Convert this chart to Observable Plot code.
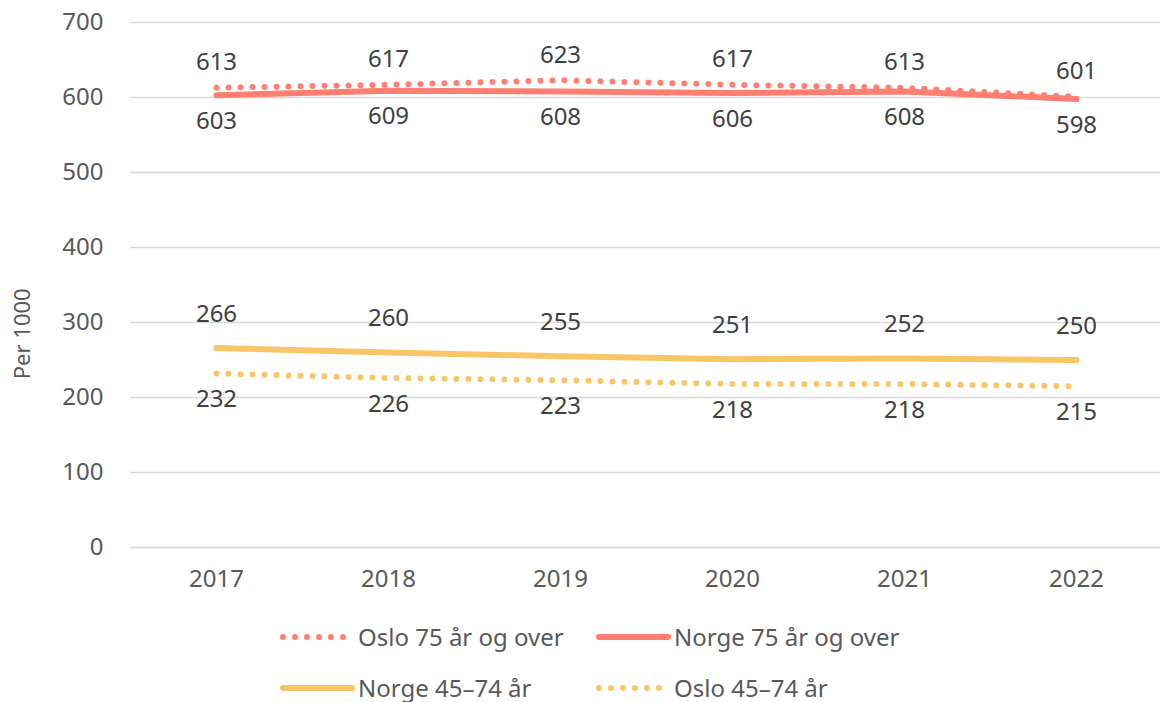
<!DOCTYPE html>
<html>
<head>
<meta charset="utf-8">
<script src="https://cdn.jsdelivr.net/npm/d3@7"></script>
<script src="https://cdn.jsdelivr.net/npm/@observablehq/plot@0.6"></script>
<style>
  html, body { margin: 0; padding: 0; background: #fff; }
  body { width: 1160px; height: 702px; overflow: hidden; font-family: "Noto Sans", Roboto, sans-serif; }
  #chart svg { display: block; }
  .legend { position: absolute; left: 0; top: 610px; width: 1160px; font-size: 24px; color: #595959; }
  .item { position: absolute; display: flex; align-items: center; height: 30px; line-height: 1; }
  .item span { line-height: 1; display: inline-block; }
  .item svg { margin-right: 2px; }
</style>
</head>
<body>
<div id="chart"></div>
<div class="legend" id="legend"></div>
<script>
const years = ["2017", "2018", "2019", "2020", "2021", "2022"];
const osloOld = [613, 617, 623, 617, 613, 601];
const norgeOld = [603, 609, 608, 606, 608, 598];
const norgeMid = [266, 260, 255, 251, 252, 250];
const osloMid = [232, 226, 223, 218, 218, 215];
const yTicks = [0, 100, 200, 300, 400, 500, 600, 700];

const salmon = "#FF7F72";
const yellow = "#FAC568";
const font = "'Noto Sans', Roboto, sans-serif";

const seriesDefs = [
  {name: "Oslo 75 år og over", values: osloOld, color: salmon, dotted: true, dy: -25},
  {name: "Norge 75 år og over", values: norgeOld, color: salmon, dotted: false, dy: 26},
  {name: "Norge 45–74 år", values: norgeMid, color: yellow, dotted: false, dy: -34},
  {name: "Oslo 45–74 år", values: osloMid, color: yellow, dotted: true, dy: 26}
];

const rows = seriesDefs.flatMap(s => years.map((y, i) => ({year: y, value: s.values[i], series: s.name})));

const marks = [
  Plot.ruleY(yTicks, {stroke: "#d9d9d9", strokeWidth: 1.5})
];
for (const s of seriesDefs) {
  const d = rows.filter(r => r.series === s.name);
  marks.push(Plot.line(d, {
    x: "year", y: "value", stroke: s.color,
    strokeWidth: 6,
    strokeLinecap: "round",
    strokeDasharray: s.dotted ? "0 12" : null
  }));
}
for (const s of seriesDefs) {
  const d = rows.filter(r => r.series === s.name);
  marks.push(Plot.text(d, {
    x: "year", y: "value", text: d => String(d.value), dy: s.dy,
    fill: "#404040", fontSize: 24, stroke: "none"
  }));
}

const chart = Plot.plot({
  width: 1160,
  height: 610,
  marginTop: 22,
  marginBottom: 63,
  marginLeft: 130,
  marginRight: 0,
  style: {fontFamily: font, fontSize: "24px", color: "#595959", background: "#fff"},
  x: {type: "point", domain: years, range: [215, 1077], padding: 0, label: null},
  y: {domain: [0, 700], label: null},
  marks: [
    ...marks,
    Plot.axisX({tickSize: 0, tickPadding: 22, fontSize: 24, fill: "#595959", label: null}),
    Plot.axisY(yTicks, {tickSize: 0, tickPadding: 27, fontSize: 24, fill: "#595959", label: null}),
    Plot.text(["Per 1000"], {frameAnchor: "left", dx: -108, rotate: -90, fontSize: 22, fill: "#595959", textAnchor: "middle",
      y: () => 285})
  ]
});
document.getElementById("chart").appendChild(chart);

// Legend (HTML)
const legendLayout = [
  [seriesDefs[0], seriesDefs[1]],
  [seriesDefs[2], seriesDefs[3]]
];
const colX = [280, 596];
const rowY = [12, 63];
const leg = document.getElementById("legend");
legendLayout.forEach((row, ri) => {
  row.forEach((s, ci) => {
    const item = document.createElement("div");
    item.className = "item";
    item.style.left = colX[ci] + "px";
    item.style.top = rowY[ri] + "px";
    const w = 72;
    const ns = "http://www.w3.org/2000/svg";
    const svg = document.createElementNS(ns, "svg");
    svg.setAttribute("width", w + 4);
    svg.setAttribute("height", 12);
    const line = document.createElementNS(ns, "line");
    line.setAttribute("x1", 3); line.setAttribute("x2", w);
    line.setAttribute("y1", 6); line.setAttribute("y2", 6);
    line.setAttribute("stroke", s.color);
    line.setAttribute("stroke-width", 6);
    line.setAttribute("stroke-linecap", "round");
    if (s.dotted) line.setAttribute("stroke-dasharray", "0 12");
    svg.appendChild(line);
    item.appendChild(svg);
    const t = document.createElement("span");
    t.textContent = s.name;
    item.appendChild(t);
    leg.appendChild(item);
  });
});
</script>
</body>
</html>
